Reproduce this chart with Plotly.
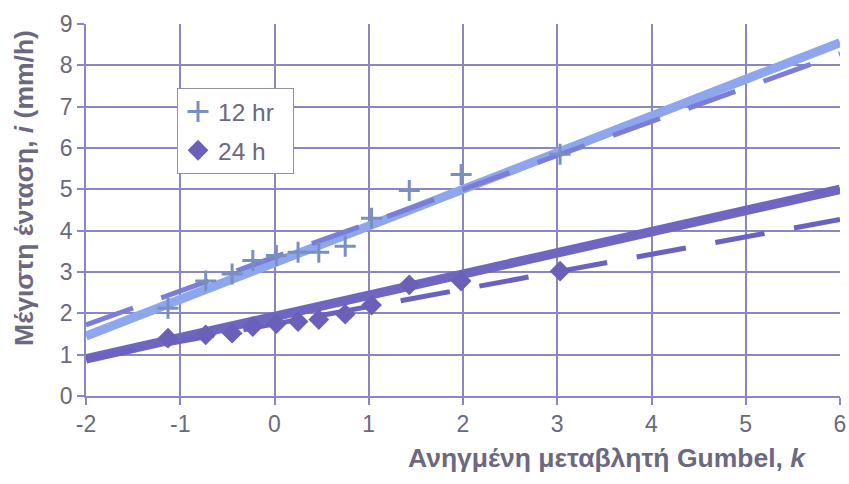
import plotly.graph_objects as go

# Gumbel reduced variate of each ranked observation
k_obs = [-1.13, -0.73, -0.45, -0.23, 0.02, 0.25, 0.47, 0.75, 1.03, 1.43, 1.98, 3.03, 6.02]
# Maximum intensities (mm/h)
i_12hr = [2.12, 2.78, 2.95, 3.28, 3.40, 3.48, 3.48, 3.62, 4.30, 4.97, 5.36, 5.85, 8.27]
i_24h = [1.40, 1.48, 1.52, 1.68, 1.75, 1.80, 1.85, 1.98, 2.20, 2.69, 2.78, 3.02, 4.26]

# Fitted Gumbel lines (end points over the plotted range)
k_fit = [-2, 6]
fit_12hr = [1.45, 8.55]
fit_12hr_alt = [1.72, 8.28]
fit_24h = [0.90, 5.00]
fit_24h_alt = [0.90, 4.27]

x_ticks = [-2, -1, 0, 1, 2, 3, 4, 5, 6]
x_tick_text = ["-2", "-1", "0", "1", "2", "3", "4", "5", "6"]
y_ticks = [0, 1, 2, 3, 4, 5, 6, 7, 8, 9]

FONT = "Liberation Sans, Arial, sans-serif"
TXT = "#6b6880"
GRID = "#8a86c2"
PAD = "\u00a0\u00a0"  # a little room on the right of the legend entries

fig = go.Figure()

fig.add_trace(go.Scatter(x=k_fit, y=fit_12hr, mode="lines",
                         line=dict(color="#8ea6ee", width=9), showlegend=False))
fig.add_trace(go.Scatter(x=k_fit, y=fit_24h, mode="lines",
                         line=dict(color="#6e66c0", width=9.5), showlegend=False))
fig.add_trace(go.Scatter(x=k_fit, y=fit_12hr_alt, mode="lines",
                         line=dict(color="#7b7ed6", width=5, dash="50px,30px"),
                         showlegend=False))
fig.add_trace(go.Scatter(x=k_fit, y=fit_24h_alt, mode="lines",
                         line=dict(color="#6a62c0", width=5, dash="50px,30px"),
                         showlegend=False))

fig.add_trace(go.Scatter(x=k_obs, y=i_12hr, mode="markers", name="12 hr" + PAD,
                         legendgroup="a", cliponaxis=False,
                         marker=dict(symbol="cross-thin", size=15, color="#7890c0",
                                     line=dict(color="#7890c0", width=3))))
fig.add_trace(go.Scatter(x=k_obs, y=i_24h, mode="markers", name="24 h",
                         legendgroup="b", cliponaxis=False,
                         marker=dict(symbol="diamond", size=16, color="#6a60b8")))

axis_common = dict(showgrid=True, gridcolor=GRID, gridwidth=1.5,
                   showline=True, linecolor=GRID, linewidth=1.5,
                   ticks="outside", ticklen=7, tickcolor=GRID, tickwidth=1.5,
                   zeroline=False, automargin=False,
                   tickfont=dict(family=FONT, size=23, color=TXT))

fig.update_xaxes(range=[-2, 6], tickvals=x_ticks, ticktext=x_tick_text, **axis_common)
fig.update_yaxes(range=[0, 9], tickvals=y_ticks, **axis_common)

fig.add_annotation(text="<b>Ανηγμένη μεταβλητή Gumbel, <i>k</i></b>",
                   xref="paper", yref="paper", x=0.958, y=-0.167,
                   xanchor="right", yanchor="middle", showarrow=False,
                   font=dict(family=FONT, size=26.5, color=TXT))
fig.add_annotation(text="<b>Μέγιστη ένταση, <i>i</i> (mm/h)</b>",
                   xref="paper", yref="paper", x=-0.082, y=0.99,
                   xanchor="center", yanchor="top", textangle=-90, showarrow=False,
                   font=dict(family=FONT, size=26.5, color=TXT))

fig.update_layout(
    width=849, height=484,
    margin=dict(l=86, r=9, t=24, b=88, autoexpand=False),
    paper_bgcolor="white", plot_bgcolor="white",
    legend=dict(x=0.1207, y=0.828, xanchor="left", yanchor="top",
                bgcolor="white", bordercolor="#9090a8", borderwidth=1,
                font=dict(family=FONT, size=24.5, color=TXT),
                traceorder="grouped", tracegroupgap=4),
)

fig.write_html("out.html")
